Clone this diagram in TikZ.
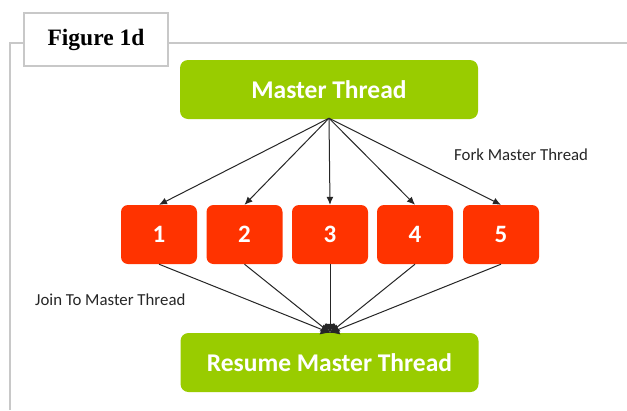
\documentclass[tikz,border=0pt]{standalone}
\usepackage{fontspec}
\setmainfont{Liberation Serif}
\newfontfamily\calib{Carlito}
\usetikzlibrary{arrows.meta}
\definecolor{threadgreen}{HTML}{99CC00}
\definecolor{workred}{HTML}{FF3300}
\definecolor{framegray}{HTML}{C8C8C8}
\begin{document}
\begin{tikzpicture}[x=1pt,y=-1pt,
  greenbox/.style={fill=threadgreen, rounded corners=8pt, minimum width=298pt, minimum height=59pt,
    text=white, font=\calib\bfseries\fontsize{25.5}{30}\selectfont, inner sep=0pt},
  redbox/.style={fill=workred, rounded corners=7pt, minimum width=76pt, minimum height=59pt,
    text=white, font=\calib\bfseries\fontsize{25}{30}\selectfont, inner sep=0pt},
  link/.style={draw=black!85, line width=1pt},
  forkarrow/.style={link, -{Latex[length=8pt,width=7pt]}},
  joinarrow/.style={link, -{Latex[length=9pt,width=11pt]}},
  caption/.style={font=\calib\fontsize{16.8}{20}\selectfont, text=black!85, inner sep=0pt}
]
\useasboundingbox (0,0) rectangle (627,410);
\fill[white] (0,0) rectangle (627,410);

% frame lines and title box
\draw[framegray, line width=1.6pt] (10,410) -- (10,43) -- (627,43);
\node[draw=framegray, line width=1.2pt, fill=white, minimum width=144pt, minimum height=53pt,
  inner sep=0pt, font=\bfseries\fontsize{23.5}{28}\selectfont] (title) at (96,39.5) {Figure 1d};

% master and resume
\node[greenbox] (master) at (329,89.5) {Master Thread};
\node[greenbox] (resume) at (329.5,362.5) {Resume Master Thread};

% worker threads
\node[redbox] (w1) at (159,234.5) {1};
\node[redbox] (w2) at (244.5,234.5) {2};
\node[redbox] (w3) at (330,234.5) {3};
\node[redbox] (w4) at (415,234.5) {4};
\node[redbox] (w5) at (501,234.5) {5};

\coordinate (fork) at ([yshift=1pt]master.south);
\coordinate (join) at ([xshift=0.5pt]resume.north);

% fork
\foreach \w in {w1,w2,w3,w4,w5}
  \draw[forkarrow] (fork) -- (\w.north);

% join
\foreach \w in {w1,w2,w3,w4,w5}
  \draw[joinarrow] (\w.south) -- (join);

% captions
\node[caption, anchor=west] (forklbl) at (454,155) {Fork Master Thread};
\node[caption, anchor=west] (joinlbl) at (35,300) {Join To Master Thread};
\end{tikzpicture}
\end{document}
